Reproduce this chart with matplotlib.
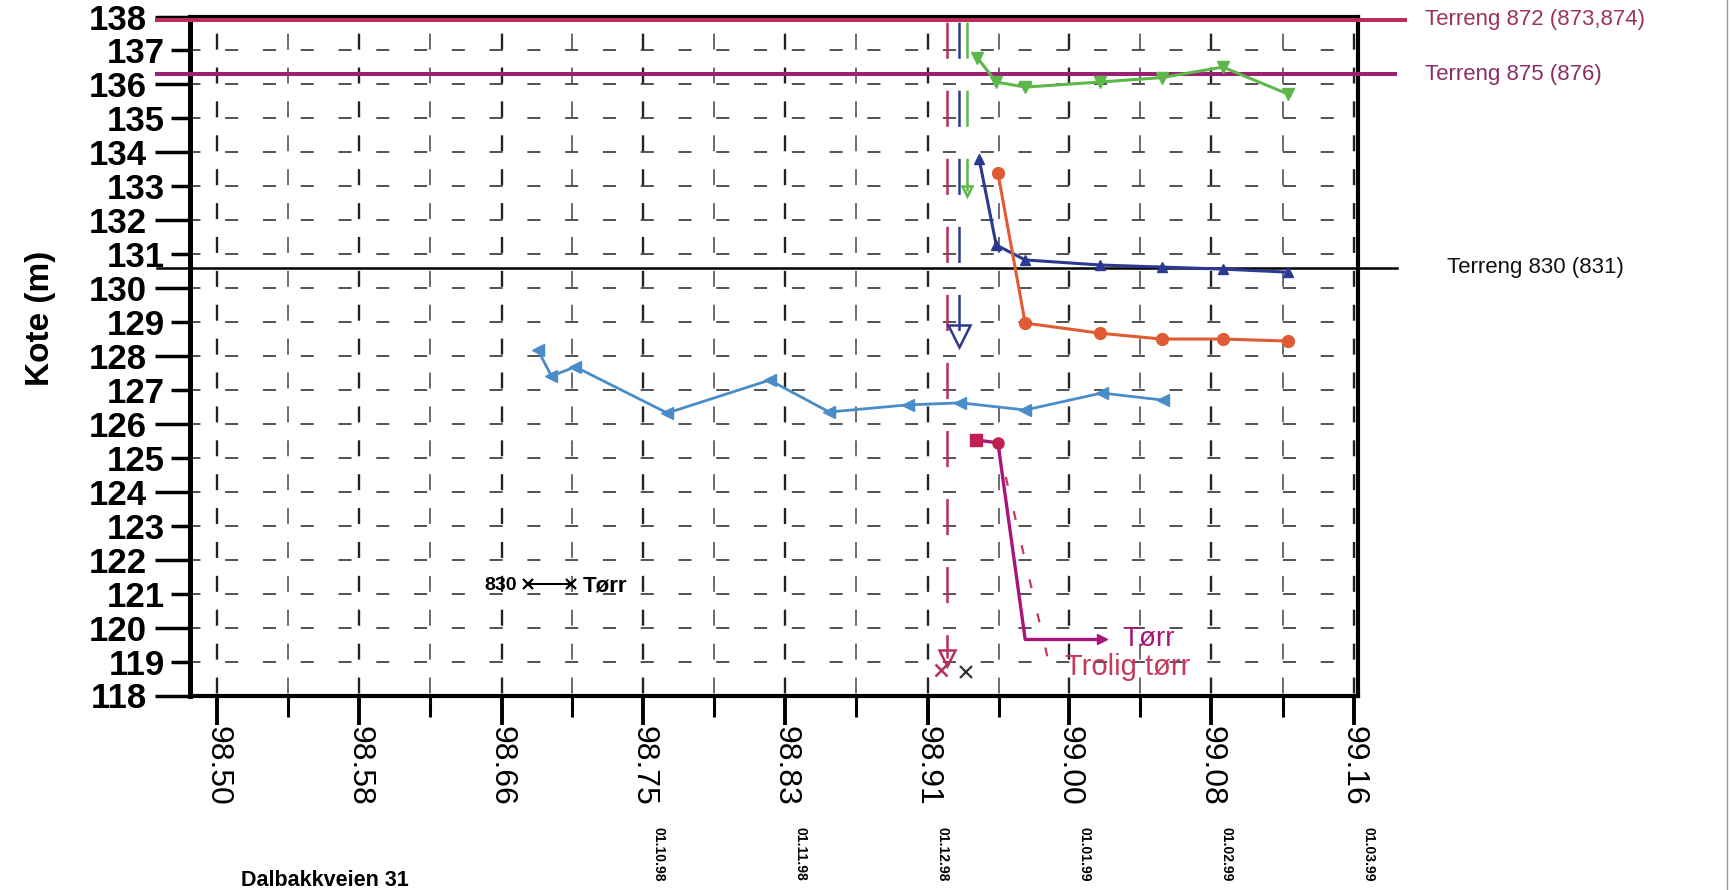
import matplotlib
matplotlib.use('Agg')
import matplotlib.pyplot as plt
import matplotlib.transforms as mtransforms
from matplotlib.lines import Line2D

plt.rcParams['font.family'] = ['Liberation Sans', 'DejaVu Sans']
plt.rcParams['lines.scale_dashes'] = False

# akse: desimalår (98.50 = 1. juli 1998)
x_ticks = [98.500, 98.5833, 98.6667, 98.750, 98.8333, 98.9167, 99.000, 99.0833, 99.1667]
x_ticklabels = ['98.50', '98.58', '98.66', '98.75', '98.83', '98.91', '99.00', '99.08', '99.16']
date_labels = ['', '', '', '01.10.98', '01.11.98', '01.12.98', '01.01.99', '01.02.99', '01.03.99']
y_major = list(range(118, 139, 2))
y_minor = list(range(119, 138, 2))

# terrengnivå
terr_levels = [137.9, 136.3, 130.6]
terr_labels = ['Terreng 872 (873,874)', 'Terreng 875 (876)', 'Terreng 830 (831)']

# maalinger
lb_x = [98.688, 98.696, 98.710, 98.764, 98.824, 98.859, 98.905, 98.936, 98.974, 99.019, 99.055]
lb_y = [128.18, 127.41, 127.68, 126.32, 127.29, 126.35, 126.56, 126.62, 126.41, 126.91, 126.70]

g_x = [98.946, 98.957, 98.974, 99.018, 99.054, 99.090, 99.128]
g_y = [136.78, 136.07, 135.92, 136.07, 136.20, 136.51, 135.72]

b_x = [98.947, 98.957, 98.974, 99.018, 99.054, 99.090, 99.128]
b_y = [133.80, 131.27, 130.83, 130.68, 130.62, 130.56, 130.47]

r_x = [98.958, 98.974, 99.018, 99.054, 99.090, 99.128]
r_y = [133.39, 128.97, 128.67, 128.50, 128.50, 128.44]

m_x = [98.945, 98.958, 98.974, 99.019]
m_y = [125.53, 125.44, 119.65, 119.65]

t_x = [98.958, 98.990]
t_y = [125.44, 118.5]

# brønner som var tørre (loddrette streker fra toppen)
v_x = [98.928, 98.935, 98.940]
v_bottom = [119.1, 128.6, 132.85]
v_top = 137.95

dry_x = [98.9245, 98.939]
dry_y = [118.75, 118.70]

CRIMSON = '#BA2D58'
PURPLE = '#9B1F72'
MAGENTA = '#A8157A'
LBLUE = '#4A8CC9'
DBLUE = '#2B3990'
GREEN = '#5DB84A'
ORANGE = '#E05A33'

W, H = 1731, 890
fig = plt.figure(figsize=(W / 100, H / 100), dpi=100)
L, R, T, B = 190, 1358, 16.5, 695.5
ax = fig.add_axes([L / W, 1 - B / H, (R - L) / W, (B - T) / H])
ax.set_xlim(98.4839, 99.1693)
ax.set_ylim(118, 138)

for s in ax.spines.values():
    s.set_linewidth(3)
ax.spines['left'].set_linewidth(3.6)

# ticks
ax.set_xticks(x_ticks)
ax.set_xticklabels(x_ticklabels, rotation=270, fontsize=23)
x_minor = [(a + b) / 2 for a, b in zip(x_ticks[:-1], x_ticks[1:])]
ax.set_xticks(x_minor, minor=True)
ax.tick_params(axis='x', which='major', length=21, width=2.8, pad=1, direction='out')
ax.tick_params(axis='x', which='minor', length=15, width=2.2, direction='out')

ax.set_yticks(y_major)
ax.set_yticklabels([str(v) for v in y_major], fontsize=25, fontweight='bold')
ax.set_yticks(y_minor, minor=True)
ax.set_yticklabels([str(v) for v in y_minor], minor=True, fontsize=25, fontweight='bold')
ax.tick_params(axis='y', which='major', length=25, width=2.5, pad=6, direction='out')
ax.tick_params(axis='y', which='minor', length=14, width=2.5, pad=4, direction='out')

# stiplet rutenett
ax.set_axisbelow(True)
ax.grid(True, axis='x', which='major', color='#222222', lw=1.7, linestyle=(22.6, (11.5, 12.9)))
ax.grid(True, axis='x', which='minor', color='#444444', lw=1.1, linestyle=(22.6, (11.5, 12.9)))
ax.grid(True, axis='y', which='both', color='#333333', lw=1.2, linestyle=(1.9, (9.4, 17.8)))

# terrenglinjer
tr = mtransforms.blended_transform_factory(ax.transAxes, ax.transData)
terr_colors = [CRIMSON, PURPLE, 'black']
terr_text_colors = ['#9C3552', '#8B2D6B', '#111111']
terr_end = [1.040, 1.032, 1.033]
terr_text_x = [1.057, 1.057, 1.076]
terr_lw = [2.9, 2.9, 1.8]
for lev, lab, c, tc, xe, xt, lw in zip(terr_levels, terr_labels, terr_colors,
                                       terr_text_colors, terr_end, terr_text_x, terr_lw):
    ax.plot([-0.028, xe], [lev, lev], color=c, lw=lw, transform=tr, clip_on=False, zorder=3)
    ax.text(xt, lev, lab, color=tc, fontsize=16, transform=tr, ha='left', va='center')

# loddrette streker for tørre brønner
v_colors = [CRIMSON, DBLUE, GREEN]
arrow_ms = [11, 16, 7]
for xv, yb, c, ms in zip(v_x, v_bottom, v_colors, arrow_ms):
    ax.plot([xv, xv], [v_top, yb], color=c, lw=1.8, linestyle=(46, (26, 23)), zorder=4)
    ax.plot([xv], [yb], marker='v', ms=ms, mfc='none', mec=c, mew=1.8, zorder=4)
ax.plot(dry_x[:1], dry_y[:1], 'x', color=CRIMSON, ms=9, mew=1.8, zorder=5)
ax.plot(dry_x[1:], dry_y[1:], 'x', color='#333333', ms=9, mew=1.6, zorder=5)

# måleserier
ax.plot(lb_x, lb_y, color=LBLUE, lw=2, marker='<', ms=8, zorder=5)
ax.plot(g_x, g_y, color=GREEN, lw=2.2, marker='v', ms=8, zorder=5)
ax.plot(b_x, b_y, color=DBLUE, lw=2.2, marker='^', ms=7, zorder=5)
ax.plot(r_x, r_y, color=ORANGE, lw=2.2, marker='o', ms=8.5, zorder=5)
ax.plot(t_x, t_y, color='#C8385E', lw=1.6, linestyle=(0, (6.5, 18.7)), zorder=5)
ax.plot(m_x, m_y, color=MAGENTA, lw=2.4, zorder=6)
ax.plot(m_x[:1], m_y[:1], 's', color='#C02050', ms=8.5, zorder=6)
ax.plot(m_x[1:2], m_y[1:2], 'o', color='#C02050', ms=8, zorder=6)
ax.plot(m_x[-1:], m_y[-1:], '>', color=MAGENTA, ms=7, zorder=6)

ax.annotate('Tørr', xy=(m_x[-1], m_y[-1]), xytext=(15, 0), textcoords='offset points',
            color=MAGENTA, fontsize=20, ha='left', va='center')
ax.annotate('Trolig tørr', xy=(t_x[-1], t_y[-1]), xytext=(9, 8), textcoords='offset points',
            color='#C8385E', fontsize=21, ha='left', va='center', annotation_clip=False)

# forklaring for 830
h830 = Line2D([], [], color='black', lw=1.5, marker='x', ms=7, mew=1.6)
ax.legend([h830], ['Tørr'], loc='center left', bbox_to_anchor=(0.2840, 0.1613),
          frameon=False, borderpad=0, borderaxespad=0, handlelength=2.5,
          handletextpad=0.25, numpoints=2, prop={'weight': 'bold', 'size': 16})
ax.text(0.2800, 0.1613, '830', transform=ax.transAxes, ha='right', va='center',
        fontsize=14, fontweight='bold')

# datoer under aksen
for xv, lab in zip(x_ticks, date_labels):
    if lab:
        ax.annotate(lab, xy=(xv, 0), xycoords=('data', 'axes fraction'),
                    xytext=(11, -95), textcoords='offset points', rotation=270,
                    ha='center', va='top', fontsize=10, fontweight='bold',
                    annotation_clip=False)

fig.text(41 / W, 1 - 318 / H, 'Kote (m)', rotation=90, ha='center', va='center',
         fontsize=24, fontweight='bold')
fig.text(241 / W, 1 - 880 / H, 'Dalbakkveien 31', ha='left', va='center',
         fontsize=15.5, fontweight='bold')
fig.add_artist(Line2D([1727 / W, 1727 / W], [0, 1], transform=fig.transFigure,
                      color='#999999', lw=1))

fig.savefig('out.png', dpi=100)
